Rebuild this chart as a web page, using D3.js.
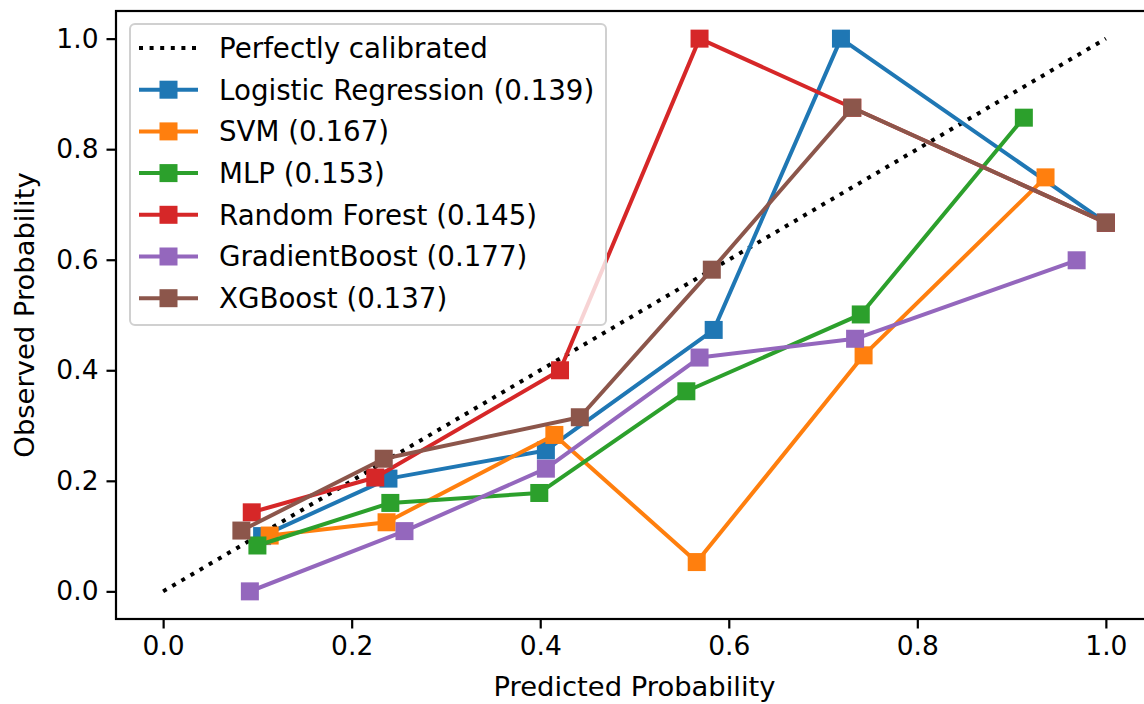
<!DOCTYPE html>
<html>
<head>
<meta charset="utf-8">
<script src="https://cdn.jsdelivr.net/npm/d3@7"></script>
<style>
  body { margin: 0; background: #fff; }
  text { font-family: "DejaVu Sans", sans-serif; fill: #000; }
</style>
</head>
<body>
<div id="chart"></div>
<script>
// series names, in drawing order
var names = ["Logistic Regression (0.139)", "SVM (0.167)", "MLP (0.153)",
  "Random Forest (0.145)", "GradientBoost (0.177)", "XGBoost (0.137)"];
var colors = ["#1f77b4", "#ff7f0e", "#2ca02c", "#d62728", "#9467bd", "#8c564b"];

// mean predicted probability per bin
var lrX  = [0.105, 0.239, 0.406, 0.584, 0.719, 1.0];
var svmX = [0.113, 0.237, 0.415, 0.566, 0.743, 0.936];
var mlpX = [0.100, 0.241, 0.399, 0.555, 0.740, 0.913];
var rfX  = [0.094, 0.225, 0.421, 0.569, 0.731, 1.0];
var gbX  = [0.092, 0.256, 0.406, 0.569, 0.734, 0.969];
var xgbX = [0.083, 0.234, 0.442, 0.582, 0.731, 1.0];

// fraction of positives per bin
var lrY  = [0.100, 0.204, 0.255, 0.473, 1.0, 0.667];
var svmY = [0.101, 0.125, 0.283, 0.053, 0.427, 0.749];
var mlpY = [0.083, 0.160, 0.178, 0.362, 0.501, 0.857];
var rfY  = [0.143, 0.206, 0.400, 1.0, 0.875, 0.667];
var gbY  = [0.0, 0.109, 0.222, 0.423, 0.457, 0.599];
var xgbY = [0.110, 0.240, 0.315, 0.582, 0.875, 0.667];

var ticks = [0.0, 0.2, 0.4, 0.6, 0.8, 1.0];

var xs = [lrX, svmX, mlpX, rfX, gbX, xgbX],
  ys = [lrY, svmY, mlpY, rfY, gbY, xgbY];

var series = names.map(function(n, i) {
  return { name: n, color: colors[i], pts: xs[i].map(function(x, j) { return [x, ys[i][j]]; }) };
});

var width = 1144, height = 704;

var svg = d3.select("#chart").append("svg")
  .attr("width", width)
  .attr("height", height);

var x = d3.scaleLinear().domain([-0.05, 1.05]).range([116, 1153]);
var y = d3.scaleLinear().domain([-0.05, 1.05]).range([619, 11]);

var line = d3.line()
  .x(function(d) { return x(d[0]); })
  .y(function(d) { return y(d[1]); });

// diagonal reference
svg.append("path")
  .datum([[0, 0], [1, 1]])
  .attr("d", line)
  .attr("fill", "none")
  .attr("stroke", "#000")
  .attr("stroke-width", 4)
  .attr("stroke-dasharray", "4,6.6");

var ms = 18;

series.forEach(function(s) {
  var g = svg.append("g");
  g.append("path")
    .datum(s.pts)
    .attr("d", line)
    .attr("fill", "none")
    .attr("stroke", s.color)
    .attr("stroke-width", 4)
    .attr("stroke-linejoin", "round");

  g.selectAll("rect")
    .data(s.pts)
  .enter().append("rect")
    .attr("x", function(d) { return x(d[0]) - ms / 2; })
    .attr("y", function(d) { return y(d[1]) - ms / 2; })
    .attr("width", ms)
    .attr("height", ms)
    .attr("fill", s.color);
});

// axes
var xAxis = d3.axisBottom(x).tickValues(ticks).tickFormat(d3.format(".1f"))
  .tickSize(9.5).tickPadding(8);
var yAxis = d3.axisLeft(y).tickValues(ticks).tickFormat(d3.format(".1f"))
  .tickSize(9.5).tickPadding(8);

svg.append("g")
  .attr("transform", "translate(0,619)")
  .call(xAxis)
  .call(function(g) { g.select(".domain").remove(); });

svg.append("g")
  .attr("transform", "translate(116,0)")
  .call(yAxis)
  .call(function(g) { g.select(".domain").remove(); });

svg.selectAll(".tick line").attr("stroke", "#000").attr("stroke-width", 2.2);
svg.selectAll(".tick text")
  .attr("font-size", 26.5)
  .attr("font-family", "DejaVu Sans")
  .attr("fill", "#000");

// frame
svg.append("rect")
  .attr("x", 116).attr("y", 11)
  .attr("width", 1153 - 116).attr("height", 619 - 11)
  .attr("fill", "none")
  .attr("stroke", "#000")
  .attr("stroke-width", 2.2);

svg.append("text")
  .attr("x", x(0.5))
  .attr("y", 696)
  .attr("text-anchor", "middle")
  .attr("font-size", 27.4)
  .text("Predicted Probability");

svg.append("text")
  .attr("transform", "translate(34," + y(0.5) + ") rotate(-90)")
  .attr("text-anchor", "middle")
  .attr("font-size", 27.4)
  .text("Observed Probability");

// legend
var leg = svg.append("g");
leg.append("rect")
  .attr("x", 130).attr("y", 24)
  .attr("width", 476).attr("height", 301)
  .attr("rx", 5)
  .attr("fill", "#fff")
  .attr("fill-opacity", 0.8)
  .attr("stroke", "#d0d0d0")
  .attr("stroke-width", 2);

var legItems = [{ name: "Perfectly calibrated", color: "#000", dotted: true }].concat(series);

var item = leg.selectAll(".item")
  .data(legItems)
.enter().append("g")
  .attr("class", "item")
  .attr("transform", function(d, i) { return "translate(0," + (48 + i * 41.7) + ")"; });

item.append("line")
  .attr("x1", 139).attr("x2", 198)
  .attr("stroke", function(d) { return d.color; })
  .attr("stroke-width", 4)
  .attr("stroke-dasharray", function(d) { return d.dotted ? "4,6.6" : null; });

item.filter(function(d) { return !d.dotted; })
  .append("rect")
  .attr("x", 168.5 - ms / 2).attr("y", -ms / 2)
  .attr("width", ms).attr("height", ms)
  .attr("fill", function(d) { return d.color; });

item.append("text")
  .attr("x", 219)
  .attr("dy", "0.36em")
  .attr("font-size", 27.7)
  .text(function(d) { return d.name; });
</script>
</body>
</html>
